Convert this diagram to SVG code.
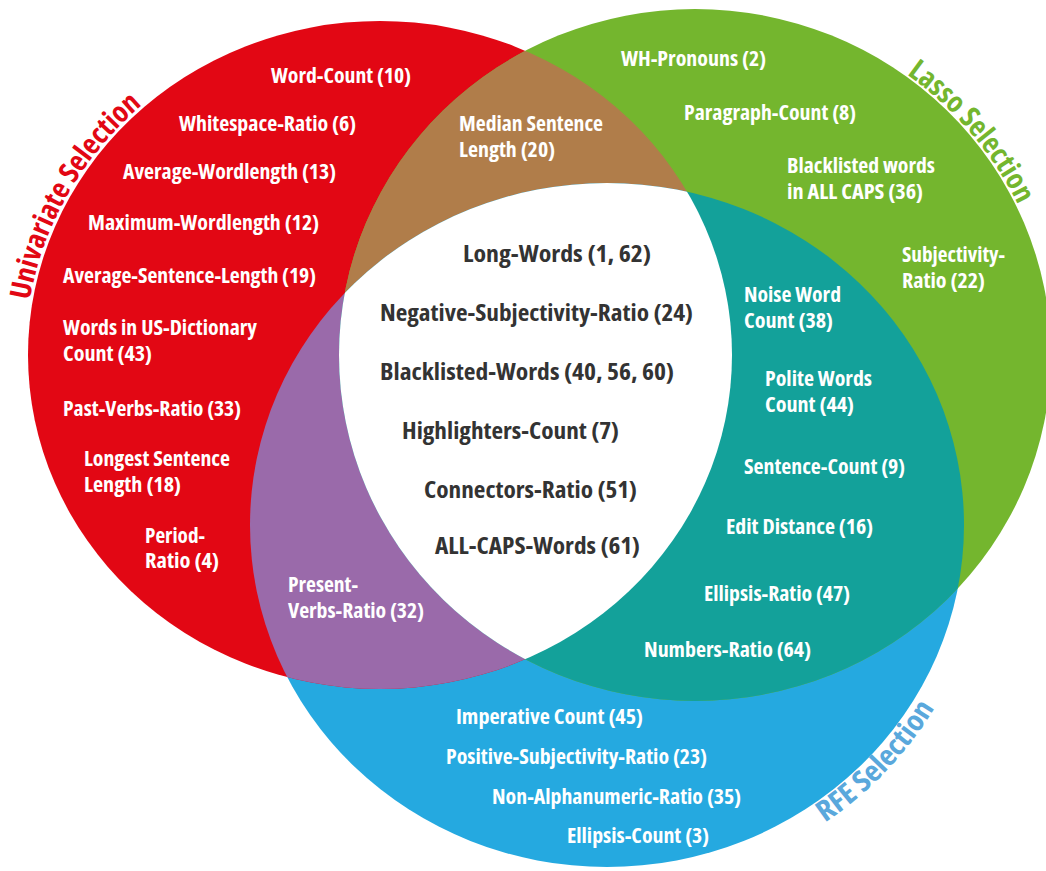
<svg xmlns="http://www.w3.org/2000/svg" xmlns:xlink="http://www.w3.org/1999/xlink" width="1046" height="871" viewBox="0 0 1046 871">
<style>
.l{font-family:"Open Sans","Liberation Sans",sans-serif;font-weight:700;font-stretch:condensed;font-size:21px;fill:#ffffff}
.c{font-family:"Open Sans","Liberation Sans",sans-serif;font-weight:700;font-stretch:condensed;font-size:23px;fill:#333333}
.t{font-family:"Open Sans","Liberation Sans",sans-serif;font-weight:700;font-stretch:condensed;font-size:29px}
</style>
<defs>
<clipPath id="cpRed"><ellipse cx="380" cy="355" rx="352" ry="334"/></clipPath>
<clipPath id="cpGreen"><ellipse cx="695" cy="355" rx="356" ry="346"/></clipPath>
<path id="arcUni" d="M 25 355 A 355 337 0 0 1 202.5 63.2" fill="none"/>
<path id="arcLasso" d="M 817.4 27.9 A 358 348 0 0 1 1047.6 294.6" fill="none"/>
<path id="arcRfe" d="M 767.3 854.8 A 379 364 0 0 0 963.1 649.5" fill="none"/>
</defs>
<rect width="1046" height="871" fill="#ffffff"/>
<g id="rfe-selection">
<ellipse cx="607" cy="525" rx="357" ry="342" fill="#25A9E0"/>
</g>
<g id="univariate-selection">
<ellipse cx="380" cy="355" rx="352" ry="334" fill="#E20714"/>
</g>
<g id="lasso-selection">
<ellipse cx="695" cy="355" rx="356" ry="346" fill="#74B62E"/>
</g>
<g id="univariate-lasso">
<ellipse cx="695" cy="355" rx="356" ry="346" fill="#B07D4A" clip-path="url(#cpRed)"/>
</g>
<g id="univariate-rfe">
<ellipse cx="607" cy="525" rx="357" ry="342" fill="#9A6AAA" clip-path="url(#cpRed)"/>
</g>
<g id="lasso-rfe">
<ellipse cx="607" cy="525" rx="357" ry="342" fill="#13A19A" clip-path="url(#cpGreen)"/>
</g>
<g id="all-three">
<g clip-path="url(#cpRed)"><ellipse cx="607" cy="525" rx="357" ry="342" fill="#ffffff" clip-path="url(#cpGreen)"/></g>
</g>
<g id="connectors"></g>
<g id="titles">
<text class="t" fill="#E20714"><textPath xlink:href="#arcUni" startOffset="55" textLength="230" lengthAdjust="spacingAndGlyphs">Univariate Selection</textPath></text>
<text class="t" fill="#74B62E"><textPath xlink:href="#arcLasso" startOffset="101" textLength="173" lengthAdjust="spacingAndGlyphs">Lasso Selection</textPath></text>
<text class="t" fill="#5AA8DC"><textPath xlink:href="#arcRfe" startOffset="66" textLength="160" lengthAdjust="spacingAndGlyphs">RFE Selection</textPath></text>
</g>
<g id="labels-univariate">
<text class="l" x="271" y="83" textLength="140" lengthAdjust="spacingAndGlyphs">Word-Count (10)</text>
<text class="l" x="179" y="131" textLength="177" lengthAdjust="spacingAndGlyphs">Whitespace-Ratio (6)</text>
<text class="l" x="123" y="179" textLength="213" lengthAdjust="spacingAndGlyphs">Average-Wordlength (13)</text>
<text class="l" x="88" y="230" textLength="231" lengthAdjust="spacingAndGlyphs">Maximum-Wordlength (12)</text>
<text class="l" x="63" y="283" textLength="253" lengthAdjust="spacingAndGlyphs">Average-Sentence-Length (19)</text>
<text class="l" x="63" y="335" textLength="194" lengthAdjust="spacingAndGlyphs">Words in US-Dictionary</text>
<text class="l" x="63" y="361" textLength="89" lengthAdjust="spacingAndGlyphs">Count (43)</text>
<text class="l" x="63" y="416" textLength="178" lengthAdjust="spacingAndGlyphs">Past-Verbs-Ratio (33)</text>
<text class="l" x="84" y="466" textLength="146" lengthAdjust="spacingAndGlyphs">Longest Sentence</text>
<text class="l" x="84" y="492" textLength="97" lengthAdjust="spacingAndGlyphs">Length (18)</text>
<text class="l" x="145" y="543" textLength="60" lengthAdjust="spacingAndGlyphs">Period-</text>
<text class="l" x="145" y="568" textLength="74" lengthAdjust="spacingAndGlyphs">Ratio (4)</text>
</g>
<g id="labels-univariate-lasso">
<text class="l" x="459" y="131" textLength="144" lengthAdjust="spacingAndGlyphs">Median Sentence</text>
<text class="l" x="459" y="157" textLength="96" lengthAdjust="spacingAndGlyphs">Length (20)</text>
</g>
<g id="labels-lasso">
<text class="l" x="621" y="66" textLength="145" lengthAdjust="spacingAndGlyphs">WH-Pronouns (2)</text>
<text class="l" x="684" y="120" textLength="172" lengthAdjust="spacingAndGlyphs">Paragraph-Count (8)</text>
<text class="l" x="787" y="173" textLength="148" lengthAdjust="spacingAndGlyphs">Blacklisted words</text>
<text class="l" x="787" y="199" textLength="136" lengthAdjust="spacingAndGlyphs">in ALL CAPS (36)</text>
<text class="l" x="902" y="262" textLength="103" lengthAdjust="spacingAndGlyphs">Subjectivity-</text>
<text class="l" x="902" y="288" textLength="83" lengthAdjust="spacingAndGlyphs">Ratio (22)</text>
</g>
<g id="labels-lasso-rfe">
<text class="l" x="744" y="302" textLength="97" lengthAdjust="spacingAndGlyphs">Noise Word</text>
<text class="l" x="744" y="328" textLength="89" lengthAdjust="spacingAndGlyphs">Count (38)</text>
<text class="l" x="765" y="386" textLength="107" lengthAdjust="spacingAndGlyphs">Polite Words</text>
<text class="l" x="765" y="412" textLength="89" lengthAdjust="spacingAndGlyphs">Count (44)</text>
<text class="l" x="744" y="474" textLength="161" lengthAdjust="spacingAndGlyphs">Sentence-Count (9)</text>
<text class="l" x="726" y="534" textLength="147" lengthAdjust="spacingAndGlyphs">Edit Distance (16)</text>
<text class="l" x="704" y="601" textLength="146" lengthAdjust="spacingAndGlyphs">Ellipsis-Ratio (47)</text>
<text class="l" x="644" y="657" textLength="167" lengthAdjust="spacingAndGlyphs">Numbers-Ratio (64)</text>
</g>
<g id="labels-univariate-rfe">
<text class="l" x="288" y="592" textLength="70" lengthAdjust="spacingAndGlyphs">Present-</text>
<text class="l" x="288" y="618" textLength="136" lengthAdjust="spacingAndGlyphs">Verbs-Ratio (32)</text>
</g>
<g id="labels-rfe">
<text class="l" x="456" y="724" textLength="187" lengthAdjust="spacingAndGlyphs">Imperative Count (45)</text>
<text class="l" x="446" y="764" textLength="261" lengthAdjust="spacingAndGlyphs">Positive-Subjectivity-Ratio (23)</text>
<text class="l" x="492" y="804" textLength="249" lengthAdjust="spacingAndGlyphs">Non-Alphanumeric-Ratio (35)</text>
<text class="l" x="567" y="843" textLength="142" lengthAdjust="spacingAndGlyphs">Ellipsis-Count (3)</text>
</g>
<g id="labels-all-three">
<text class="c" x="463" y="262" textLength="188" lengthAdjust="spacingAndGlyphs">Long-Words (1, 62)</text>
<text class="c" x="380" y="321" textLength="313" lengthAdjust="spacingAndGlyphs">Negative-Subjectivity-Ratio (24)</text>
<text class="c" x="380" y="380" textLength="294" lengthAdjust="spacingAndGlyphs">Blacklisted-Words (40, 56, 60)</text>
<text class="c" x="402" y="439" textLength="217" lengthAdjust="spacingAndGlyphs">Highlighters-Count (7)</text>
<text class="c" x="424" y="498" textLength="213" lengthAdjust="spacingAndGlyphs">Connectors-Ratio (51)</text>
<text class="c" x="435" y="554" textLength="205" lengthAdjust="spacingAndGlyphs">ALL-CAPS-Words (61)</text>
</g>
</svg>
